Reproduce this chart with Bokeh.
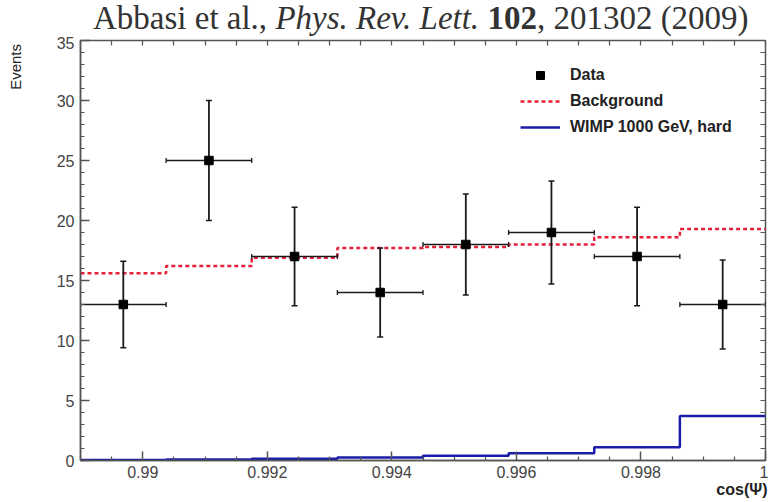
import numpy as np
from bokeh.plotting import figure
from bokeh.layouts import column, row
from bokeh.models import (ColumnDataSource, Legend, LegendItem, LinearAxis, Title, Div,
                          FixedTicker, CustomJSTickFormatter, Range1d)
from bokeh.embed import file_html
from bokeh.resources import INLINE

# ---- data ----
bin_edges = [0.989, 0.990375, 0.99175, 0.993125, 0.9945, 0.995875, 0.99725, 0.998625, 1.0]
data_counts = [13, 25, 17, 14, 18, 19, 17, 13]
data_err = [3.6, 5.0, 4.1, 3.7, 4.2, 4.3, 4.1, 3.7]
background = [15.6, 16.2, 16.9, 17.7, 17.8, 18.0, 18.6, 19.3]
wimp_hard = [0.05, 0.08, 0.15, 0.25, 0.4, 0.6, 1.1, 3.7]

x_ticks = [0.990, 0.992, 0.994, 0.996, 0.998, 1.000]
x_minor = [0.9895, 0.9905, 0.991, 0.9915, 0.9925, 0.993, 0.9935, 0.9945, 0.995, 0.9955,
           0.9965, 0.997, 0.9975, 0.9985, 0.999, 0.9995]
y_ticks = [0, 5, 10, 15, 20, 25, 30, 35]
y_minor = [v for v in range(0, 36) if v % 5 != 0]

title_html = 'Abbasi et al., <i>Phys. Rev. Lett.</i> <b>102</b>, 201302 (2009)'
y_label = "Events"
x_label = "cos(Ψ)"
legend_labels = ["Data", "Background", "WIMP 1000 GeV, hard"]

# ---- derived ----
lo = np.array(bin_edges[:-1]); hi = np.array(bin_edges[1:])
centers = (lo + hi) / 2
counts = np.array(data_counts, dtype=float)
err = np.array(data_err)

src = ColumnDataSource(dict(x=centers, y=counts, x0=lo, x1=hi,
                            ylo=counts - err, yhi=counts + err))
bkg_src = ColumnDataSource(dict(x=bin_edges, y=background + [background[-1]]))
sig_src = ColumnDataSource(dict(x=bin_edges, y=wimp_hard + [wimp_hard[-1]]))

TITLE_H = 36
YT_W = 30
p = figure(width=768 - YT_W, height=502 - TITLE_H,
           x_range=Range1d(bin_edges[0], bin_edges[-1]),
           y_range=Range1d(0, 35), output_backend="svg", toolbar_location=None,
           min_border_left=80 - YT_W, min_border_right=3, min_border_top=40 - TITLE_H,
           min_border_bottom=42,
           background_fill_color="white", border_fill_color="white")
p.grid.visible = False
p.outline_line_color = "#555555"
p.outline_line_width = 1.5

AX_COL = "#555555"

def style(ax, ticks, minor):
    ax.ticker = FixedTicker(ticks=ticks, minor_ticks=minor)
    ax.axis_line_color = AX_COL
    ax.axis_line_width = 1.5
    ax.major_tick_line_color = AX_COL
    ax.minor_tick_line_color = AX_COL
    ax.major_tick_line_width = 1.5
    ax.minor_tick_line_width = 1.2
    ax.major_tick_in = 9
    ax.major_tick_out = 0
    ax.minor_tick_in = 4
    ax.minor_tick_out = 0
    ax.major_label_text_font = "Liberation Sans"
    ax.major_label_text_color = "#444444"
    ax.major_label_text_font_size = "16px"
    ax.major_label_standoff = 5

xa = p.xaxis[0]
style(xa, x_ticks, x_minor)
xa.formatter = CustomJSTickFormatter(code="return Number(tick.toFixed(4)).toString();")
ya = p.yaxis[0]
style(ya, y_ticks, y_minor)
ya.major_label_standoff = 6

# mirrored tick marks on top and right (no labels: ticks given as minor ticks only)
for loc, tk in (("above", x_ticks + x_minor), ("right", y_ticks + y_minor)):
    ax = LinearAxis(ticker=FixedTicker(ticks=[], minor_ticks=sorted(tk)))
    ax.axis_line_color = None
    ax.minor_tick_line_color = AX_COL
    ax.minor_tick_line_width = 1.2
    ax.minor_tick_in = 5
    ax.minor_tick_out = 0
    ax.major_tick_in = 0
    ax.major_tick_out = 0
    ax.major_label_standoff = 0
    p.add_layout(ax, loc)

# histograms
bkg = p.step("x", "y", source=bkg_src, mode="after", line_color="#e5203a",
             line_width=2.5, line_dash="4 3")
sig = p.step("x", "y", source=sig_src, mode="after", line_color="#1c1caa",
             line_width=2.5)

# data with error bars
p.segment(x0="x0", y0="y", x1="x1", y1="y", source=src, line_color="#1a1a1a", line_width=1.4)
p.segment(x0="x", y0="ylo", x1="x", y1="yhi", source=src, line_color="#1a1a1a", line_width=1.8)
p.scatter("x", "ylo", source=src, marker="dash", size=6, line_color="#1a1a1a", line_width=1.5)
p.scatter("x", "yhi", source=src, marker="dash", size=6, line_color="#1a1a1a", line_width=1.5)
p.scatter("x0", "y", source=src, marker="dash", size=5, angle=np.pi / 2,
          line_color="#1a1a1a", line_width=1.3)
p.scatter("x1", "y", source=src, marker="dash", size=5, angle=np.pi / 2,
          line_color="#1a1a1a", line_width=1.3)
pts = p.scatter("x", "y", source=src, marker="square", size=8.5, fill_color="black",
                line_color="black")

legend = Legend(items=[LegendItem(label=legend_labels[0], renderers=[pts]),
                       LegendItem(label=legend_labels[1], renderers=[bkg]),
                       LegendItem(label=legend_labels[2], renderers=[sig])],
                location=(440, 323), padding=0, margin=0, spacing=6,
                glyph_width=40, glyph_height=20, label_height=20, label_standoff=10,
                label_text_font="Liberation Sans", label_text_font_style="bold",
                label_text_font_size="16px", label_text_color="#222222",
                border_line_color=None, background_fill_alpha=0)
p.add_layout(legend)

# x title at the right end of the axis (ROOT style)
p.add_layout(Title(text=x_label, align="right", vertical_align="top", standoff=0,
                   offset=-2, text_font="Liberation Sans", text_font_size="16px",
                   text_font_style="bold", text_color="#222222"), "below")

# y title at the top of the axis, reading upwards
ytitle_div = Div(
    text=('<div style="display:inline-block; writing-mode:vertical-rl; '
          'transform:rotate(180deg); font-family:\'Liberation Sans\'; font-size:15px; '
          'line-height:18px; color:#222222; white-space:nowrap;">' + y_label + '</div>'),
    width=YT_W, height=502 - TITLE_H, margin=0,
    styles={"padding-left": "7px", "padding-top": "8px", "box-sizing": "border-box"})

title_div = Div(text=title_html, width=768, height=TITLE_H, margin=0,
                styles={"font-family": "Liberation Serif", "font-size": "33px",
                        "line-height": "36px", "white-space": "nowrap",
                        "padding-left": "93px", "color": "#333333",
                        "box-sizing": "border-box"})

layout = column(title_div, row(ytitle_div, p, spacing=0), spacing=0)
open("out.html", "w").write(file_html(layout, INLINE))
